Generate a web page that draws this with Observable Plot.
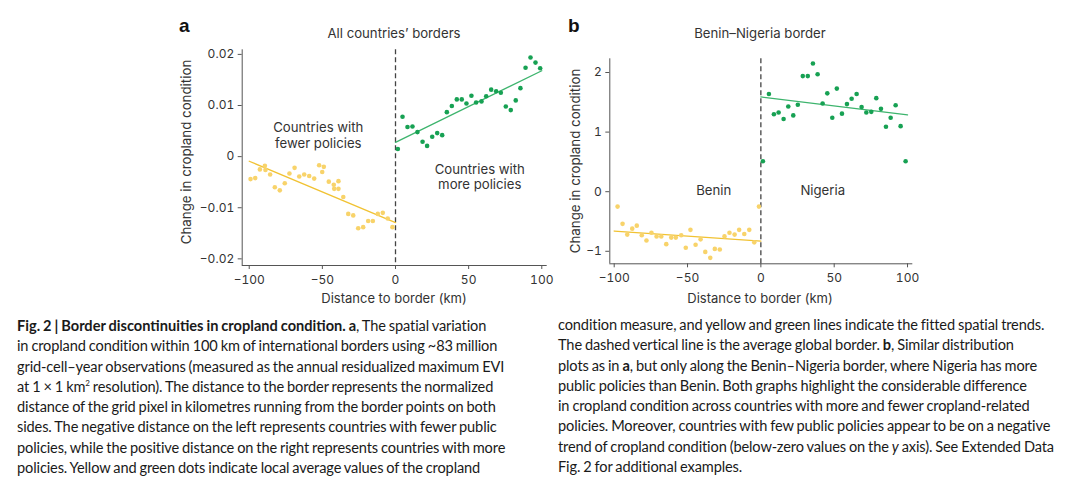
<!DOCTYPE html>
<html>
<head>
<meta charset="utf-8">
<script src="https://cdn.jsdelivr.net/npm/d3@7"></script>
<script src="https://cdn.jsdelivr.net/npm/@observablehq/plot@0.6"></script>
<style>
  html, body { margin: 0; padding: 0; background: #fff; }
  #fig { position: relative; width: 1080px; height: 493px; overflow: hidden; font-family: Inter, "Liberation Sans", sans-serif; color: #333; }
  .abs { position: absolute; white-space: nowrap; }
  .letter { font-family: "Liberation Sans", Arial, sans-serif; font-weight: bold; font-size: 19px; color: #111; }
  .ptitle { font-size: 13.2px; transform: translateX(-50%); }
  .xlab { font-size: 13px; transform: translateX(-50%); }
  .ylab { font-size: 13.3px; transform: translate(-50%, -50%) rotate(-90deg); }
  .cap { position: absolute; font-family: Lato, "Noto Sans", sans-serif; font-size: 14.6px; line-height: 20.3px; color: #1a1a1a; letter-spacing: -0.13px; word-spacing: -0.6px; }
  .cap b { letter-spacing: 0; }
  .cap div { white-space: nowrap; }
  .cap sup { font-size: 8px; line-height: 0; }
</style>
</head>
<body>
<div id="fig">
  <div class="abs letter" style="left:179px; top:15px;">a</div>
  <div class="abs letter" style="left:568px; top:15px;">b</div>
  <div class="abs ptitle" style="left:394px; top:25px;">All countries’ borders</div>
  <div class="abs ptitle" style="left:760px; top:25px;">Benin–Nigeria border</div>
  <div class="abs ylab" style="left:186px; top:152px;">Change in cropland condition</div>
  <div class="abs ylab" style="left:575px; top:161px;">Change in cropland condition</div>
  <div class="abs xlab" style="left:394px; top:290px;">Distance to border (km)</div>
  <div class="abs xlab" style="left:760px; top:290px;">Distance to border (km)</div>
  <div id="plotA" class="abs" style="left:170px; top:40px;"></div>
  <div id="plotB" class="abs" style="left:560px; top:40px;"></div>
  <div class="cap" style="left:17px; top:316px;">
    <div><b>Fig. 2 | Border discontinuities in cropland condition. a</b>, The spatial variation</div>
    <div>in cropland condition within 100 km of international borders using ~83 million</div>
    <div>grid-cell–year observations (measured as the annual residualized maximum EVI</div>
    <div>at 1 × 1 km<sup>2</sup> resolution). The distance to the border represents the normalized</div>
    <div>distance of the grid pixel in kilometres running from the border points on both</div>
    <div>sides. The negative distance on the left represents countries with fewer public</div>
    <div>policies, while the positive distance on the right represents countries with more</div>
    <div>policies. Yellow and green dots indicate local average values of the cropland</div>
  </div>
  <div class="cap" style="left:558px; top:315px;">
    <div>condition measure, and yellow and green lines indicate the fitted spatial trends.</div>
    <div>The dashed vertical line is the average global border. <b>b</b>, Similar distribution</div>
    <div>plots as in <b>a</b>, but only along the Benin–Nigeria border, where Nigeria has more</div>
    <div>public policies than Benin. Both graphs highlight the considerable difference</div>
    <div>in cropland condition across countries with more and fewer cropland-related</div>
    <div>policies. Moreover, countries with few public policies appear to be on a negative</div>
    <div>trend of cropland condition (below-zero values on the <i>y</i> axis). See Extended Data</div>
    <div>Fig. 2 for additional examples.</div>
  </div>
</div>
<script>
// ---------- Panel a: all countries' borders ----------
const aFewerX = [-99.1,-95.9,-92.7,-89.3,-88.9,-85.7,-82.5,-79.1,-75.7,-72.5,-69.0,-65.8,-62.4,-59.0,-55.6,-52.2,-50.1,-49.0,-45.6,-42.2,-41.9,-39.0,-39.0,-35.7,-32.3,-28.9,-25.5,-22.1,-18.7,-15.5,-12.1,-8.7,-5.3,-2.1];
const aFewerY = [-0.0044,-0.0042,-0.0025,-0.0018,-0.0026,-0.0035,-0.0060,-0.0066,-0.0052,-0.0033,-0.0022,-0.0039,-0.0035,-0.0038,-0.0043,-0.0017,-0.0030,-0.0020,-0.0049,-0.0055,-0.0063,-0.0048,-0.0063,-0.0079,-0.0112,-0.0115,-0.0140,-0.0138,-0.0126,-0.0126,-0.0112,-0.0110,-0.0121,-0.0138];
const aMoreX = [1.6,4.8,8.2,11.6,15.0,18.5,21.6,25.1,28.5,31.9,35.1,38.5,41.9,45.3,48.5,51.9,55.1,58.8,62.0,65.4,68.8,72.0,75.4,78.8,82.2,85.4,88.9,92.3,95.7,98.9];
const aMoreY = [0.0015,0.0078,0.0058,0.0059,0.0048,0.0029,0.0021,0.0039,0.0046,0.0042,0.0087,0.0099,0.0112,0.0112,0.0104,0.0119,0.0106,0.0108,0.0118,0.0131,0.0128,0.0125,0.0098,0.0091,0.0110,0.0134,0.0174,0.0194,0.0184,0.0173];
const aFitFewerX = [-100, 0];
const aFitFewerY = [-0.0009, -0.0129];
const aFitMoreX = [0, 100];
const aFitMoreY = [0.0028, 0.0168];
const aXDomain = [-104.8, 103.7];
const aYDomain = [-0.0213, 0.0209];
const aYTicks = [-0.02, -0.01, 0, 0.01, 0.02];
const aNoteX = [-52.8, 57.6];
const aNoteY = [0.0042, -0.0039];
const aNoteText = ["Countries with\nfewer policies", "Countries with\nmore policies"];

// ---------- Panel b: Benin–Nigeria border ----------
const bBeninX = [-97.7,-94.3,-91.1,-87.7,-84.6,-81.2,-78.0,-74.6,-71.1,-67.9,-64.5,-61.1,-58.0,-54.3,-51.2,-48.0,-44.5,-41.1,-37.9,-34.5,-31.4,-28.0,-24.8,-21.4,-17.9,-14.8,-11.3,-7.9,-4.5,-1.3];
const bBeninY = [-0.25,-0.54,-0.72,-0.62,-0.57,-0.73,-0.82,-0.69,-0.75,-0.75,-0.88,-0.77,-0.77,-0.73,-0.94,-0.64,-0.89,-0.80,-1.01,-1.11,-0.96,-0.97,-0.75,-0.69,-0.72,-0.64,-0.71,-0.64,-0.85,-0.25];
const bNigeriaX = [1.4,5.5,8.9,12.1,15.5,18.7,22.1,25.2,28.6,32.0,35.5,38.7,42.1,45.3,48.7,51.8,55.3,58.7,61.9,65.3,68.7,71.9,75.3,78.7,81.9,85.3,88.5,91.9,95.3,98.7];
const bNigeriaY = [0.51,1.64,1.30,1.33,1.22,1.43,1.28,1.46,1.94,1.94,2.15,1.97,1.48,1.65,1.24,1.73,1.31,1.47,1.56,1.64,1.42,1.33,1.34,1.57,1.39,1.09,1.24,1.45,1.10,0.51];
const bFitBeninX = [-100, 0];
const bFitBeninY = [-0.66, -0.83];
const bFitNigeriaX = [0, 100];
const bFitNigeriaY = [1.59, 1.29];
const bXDomain = [-103, 103.6];
const bYDomain = [-1.21, 2.23];
const bYTicks = [-1, 0, 1, 2];
const bNoteX = [-32.1, 42.2];
const bNoteY = [0.02, 0.02];
const bNoteText = ["Benin", "Nigeria"];

const xTicks = [-100, -50, 0, 50, 100];

// ---------- styling ----------
const YELLOW_DOT = "#F8D36A", YELLOW_LINE = "#F1C232";
const GREEN_DOT = "#17A153", GREEN_LINE = "#3DB46D";
const AXIS = "#555", TEXT = "#333";

const pts = (xs, ys) => xs.map((x, i) => ({x, y: ys[i]}));
const notes = (xs, ys, ts) => xs.map((x, i) => ({x, y: ys[i], text: ts[i]}));

function panel({fewer, more, fitFewer, fitMore, xDomain, yDomain, yTicks, yFormat, note, width, height, margins}) {
  return Plot.plot({
    width, height,
    marginLeft: margins[0], marginRight: margins[1], marginTop: margins[2], marginBottom: margins[3],
    x: {domain: xDomain},
    y: {domain: yDomain},
    style: {fontFamily: "Inter, 'Liberation Sans', sans-serif", fontSize: "12px", color: TEXT, background: "transparent", overflow: "visible"},
    marks: [
      Plot.axisX(xTicks, {tickSize: 4, tickPadding: 6, label: null, stroke: AXIS, fontSize: 12}),
      Plot.axisY(yTicks, {tickSize: 4, tickPadding: 4, label: null, stroke: AXIS, tickFormat: yFormat, fontSize: 12}),
      Plot.ruleX([xDomain[0]], {stroke: AXIS, strokeWidth: 1}),
      Plot.ruleY([yDomain[0]], {stroke: AXIS, strokeWidth: 1}),
      Plot.ruleX([0], {stroke: "#444", strokeWidth: 1.3, strokeDasharray: "5,3"}),
      Plot.line(fitFewer, {x: "x", y: "y", stroke: YELLOW_LINE, strokeWidth: 1.3}),
      Plot.line(fitMore, {x: "x", y: "y", stroke: GREEN_LINE, strokeWidth: 1.3}),
      Plot.dot(fewer, {x: "x", y: "y", r: 2.3, fill: YELLOW_DOT, stroke: "none"}),
      Plot.dot(more, {x: "x", y: "y", r: 2.3, fill: GREEN_DOT, stroke: "none"}),
      Plot.text(note, {x: "x", y: "y", text: "text", fontSize: 13.2, lineHeight: 1.18, fill: TEXT, lineAnchor: "middle"})
    ]
  });
}

const fmtA = d => d === 0 ? "0" : d3.format(".2~f")(d);
document.getElementById("plotA").append(panel({
  fewer: pts(aFewerX, aFewerY), more: pts(aMoreX, aMoreY),
  fitFewer: pts(aFitFewerX, aFitFewerY), fitMore: pts(aFitMoreX, aFitMoreY),
  xDomain: aXDomain, yDomain: aYDomain, yTicks: aYTicks, yFormat: fmtA,
  note: notes(aNoteX, aNoteY, aNoteText),
  width: 390, height: 270, margins: [71.7, 13.3, 9.3, 45]
}));
document.getElementById("plotB").append(panel({
  fewer: pts(bBeninX, bBeninY), more: pts(bNigeriaX, bNigeriaY),
  fitFewer: pts(bFitBeninX, bFitBeninY), fitMore: pts(bFitNigeriaX, bFitNigeriaY),
  xDomain: bXDomain, yDomain: bYDomain, yTicks: bYTicks, yFormat: d3.format("~f"),
  note: notes(bNoteX, bNoteY, bNoteText),
  width: 370, height: 270, margins: [49.3, 17.7, 18.3, 46.7]
}));
</script>
</body>
</html>
